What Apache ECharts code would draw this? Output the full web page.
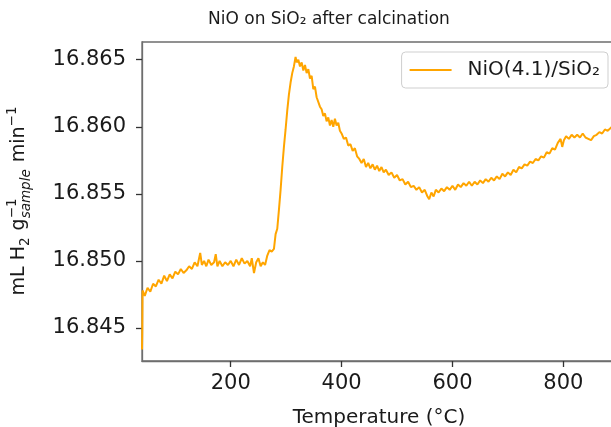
<!DOCTYPE html>
<html>
<head>
<meta charset="utf-8">
<script src="https://cdn.jsdelivr.net/npm/echarts@6/dist/echarts.min.js"></script>
<style>
  html, body { margin: 0; padding: 0; background: #fff; }
  #chart { width: 611px; height: 427px; }
</style>
</head>
<body>
<div id="chart"></div>
<script>
// Temperature-programmed reduction trace (H2 consumption vs. temperature)
const temperature = [
  40, 40.5, 41, 45, 50, 55, 60, 65, 70, 75, 80, 85, 90, 95, 100, 105, 110, 115, 120, 125,
  130, 135, 140, 145, 148, 152, 156, 160, 165, 170, 173, 176, 180, 185, 190, 195, 200, 205, 210, 215,
  220, 225, 230, 235, 238, 242, 246, 250, 254, 258, 262, 266, 270, 274, 278, 281, 284, 287, 290, 293,
  296, 299, 302, 305, 308, 311, 314, 317, 319, 322, 325, 328, 331, 334, 337, 340, 343, 346, 349, 352,
  355, 358, 361, 364, 367, 370, 373, 376, 379, 382, 385, 388, 391, 394, 397, 400, 404, 408, 412, 416,
  420, 424, 428, 432, 436, 440, 444, 448, 452, 456, 460, 464, 468, 472, 476, 480, 485, 490, 495, 500,
  505, 510, 515, 520, 525, 530, 535, 540, 545, 550, 555, 558, 562, 566, 570, 575, 580, 585, 590, 595,
  600, 605, 610, 615, 620, 625, 630, 635, 640, 645, 650, 655, 660, 665, 670, 675, 680, 685, 690, 695,
  700, 705, 710, 715, 720, 725, 730, 735, 740, 745, 750, 755, 760, 765, 770, 775, 780, 785, 790, 795,
  798, 801, 805, 810, 815, 820, 825, 830, 835, 840, 845, 850, 855, 860, 865, 870, 875, 880, 885, 890, 895
];
const h2Consumption = [
  16.8434, 16.8447, 16.8478, 16.8474, 16.8480, 16.8477, 16.8483, 16.8481, 16.8486, 16.8483, 16.8489, 16.8485, 16.8490, 16.8487, 16.8492, 16.8490, 16.8494, 16.8491, 16.8493, 16.8496,
  16.8494, 16.8499, 16.8496, 16.8506, 16.8497, 16.8500, 16.8496, 16.8501, 16.8497, 16.8499, 16.8505, 16.8496, 16.8500, 16.8496, 16.8499, 16.8497, 16.8500, 16.8496, 16.8501, 16.8497,
  16.8502, 16.8498, 16.8500, 16.8496, 16.8502, 16.8491, 16.8499, 16.8502, 16.8496, 16.8499, 16.8497, 16.8504, 16.8508, 16.8507, 16.8509, 16.8520, 16.8524, 16.8538, 16.8553, 16.8570,
  16.8585, 16.8598, 16.8612, 16.8624, 16.8633, 16.8640, 16.8645, 16.8652, 16.8648, 16.8650, 16.8645, 16.8648, 16.8642, 16.8646, 16.8640, 16.8643, 16.8636, 16.8638, 16.8628, 16.8630,
  16.8622, 16.8621, 16.8615, 16.8613, 16.8608, 16.8610, 16.8604, 16.8607, 16.8601, 16.8605, 16.8600, 16.8606, 16.8601, 16.8603, 16.8597, 16.8595, 16.8591, 16.8592, 16.8586, 16.8587,
  16.8582, 16.8584, 16.8578, 16.8576, 16.8573, 16.8576, 16.8570, 16.8573, 16.8569, 16.8572, 16.8568, 16.8571, 16.8567, 16.8570, 16.8566, 16.8568, 16.8564, 16.8566, 16.8562, 16.8564,
  16.8560, 16.8561, 16.8557, 16.8559, 16.8555, 16.8556, 16.8553, 16.8555, 16.8551, 16.8553, 16.8548, 16.8546, 16.8551, 16.8548, 16.8553, 16.8551, 16.8554, 16.8552, 16.8555, 16.8553,
  16.8556, 16.8553, 16.8557, 16.8555, 16.8558, 16.8556, 16.8559, 16.8556, 16.8559, 16.8557, 16.8560, 16.8558, 16.8561, 16.8559, 16.8562, 16.8560, 16.8563, 16.8561, 16.8565, 16.8563,
  16.8566, 16.8564, 16.8568, 16.8566, 16.8570, 16.8569, 16.8572, 16.8571, 16.8574, 16.8573, 16.8576, 16.8575, 16.8578, 16.8577, 16.8581, 16.8580, 16.8584, 16.8583, 16.8588, 16.8591,
  16.8585, 16.8590, 16.8593, 16.8591, 16.8594, 16.8592, 16.8594, 16.8592, 16.8595, 16.8592, 16.8591, 16.8590, 16.8593, 16.8594, 16.8596, 16.8595, 16.8598, 16.8597, 16.8599, 16.8601, 16.8600
];
const xTicks = [200, 400, 600, 800];
const yTicks = [16.845, 16.850, 16.855, 16.860, 16.865];
const seriesName = 'NiO(4.1)/SiO₂';
const chartTitle = 'NiO on SiO₂ after calcination';
const xAxisTitle = 'Temperature (°C)';

const FONT = "'DejaVu Sans', sans-serif";
const TEXT = '#1a1a1a';
const LINE = '#ffa500';

// Rotated y-axis title assembled from pieces so the stacked
// superscript / subscript after "g" sit on top of each other.
function buildYTitle(baselineX, centerY) {
  const ctx = document.createElement('canvas').getContext('2d');
  const measure = (t, size, italic) => {
    ctx.font = (italic ? 'italic ' : '') + size + 'px "DejaVu Sans"';
    return ctx.measureText(t).width;
  };
  const MAIN = 19, SCRIPT = 13.5, GAP = 1;
  const pieces = [];
  let x = 0;
  const put = (text, size, shift, italic, advance) => {
    pieces.push({
      type: 'text', x: x, y: shift - 0.35 * size,
      style: {
        text: text, fill: TEXT,
        font: (italic ? 'italic ' : '') + size + 'px ' + FONT,
        textAlign: 'left', verticalAlign: 'middle', textVerticalAlign: 'middle'
      }
    });
    if (advance) x += measure(text, size, italic);
  };
  put('mL H', MAIN, 0, false, true);
  put('2', SCRIPT, 4, false, true);
  x += GAP;
  put(' g', MAIN, 0, false, true);
  const supW = measure('−1', SCRIPT, false);
  const subW = measure('sample', SCRIPT, true);
  put('−1', SCRIPT, -9, false, false);
  put('sample', SCRIPT, 5, true, false);
  x += Math.max(supW, subW) + GAP;
  put(' min', MAIN, 0, false, true);
  put('−1', SCRIPT, -9, false, true);
  return {
    type: 'group',
    x: baselineX, y: centerY + x / 2,
    rotation: Math.PI / 2,
    children: pieces
  };
}

const chart = echarts.init(document.getElementById('chart'), null, { renderer: 'canvas' });

chart.setOption({
  animation: false,
  backgroundColor: '#fff',
  title: {
    text: chartTitle,
    left: 203, top: 6,
    textStyle: { fontFamily: FONT, fontSize: 17, fontWeight: 'normal', color: TEXT }
  },
  legend: {
    data: [{ name: seriesName, icon: 'rect' }],
    right: 3, top: 52,
    padding: [8, 8, 8, 8],
    itemWidth: 42, itemHeight: 2,
    itemStyle: { color: LINE },
    borderColor: '#cfcfcf', borderWidth: 1, borderRadius: 4,
    backgroundColor: 'rgba(255,255,255,0.8)',
    textStyle: { fontFamily: FONT, fontSize: 20, color: TEXT, padding: [0, 0, 0, 11], lineHeight: 20 }
  },
  grid: {
    left: 142, top: 42, right: -5, bottom: 66,
    containLabel: false, outerBoundsMode: 'none',
    show: true, borderColor: '#6e6e6e', borderWidth: 1.3, backgroundColor: 'transparent'
  },
  xAxis: {
    type: 'value',
    min: 40, max: 895,
    name: xAxisTitle, nameLocation: 'middle', nameGap: 47,
    nameTextStyle: { fontFamily: FONT, fontSize: 20, color: TEXT },
    axisLine: { show: true, lineStyle: { color: '#6e6e6e', width: 1.3 } },
    axisTick: { show: true, inside: false, length: 6, customValues: xTicks, lineStyle: { color: '#333', width: 1.3 } },
    axisLabel: { customValues: xTicks, margin: 12, fontFamily: FONT, fontSize: 21, color: TEXT },
    splitLine: { show: false }
  },
  yAxis: {
    type: 'value',
    min: 16.84254, max: 16.86632,
    axisLine: { show: true, lineStyle: { color: '#6e6e6e', width: 1.3 } },
    axisTick: { show: true, inside: false, length: 6, customValues: yTicks, lineStyle: { color: '#333', width: 1.3 } },
    axisLabel: {
      customValues: yTicks, margin: 16, fontFamily: FONT, fontSize: 21, color: TEXT,
      formatter: v => v.toFixed(3)
    },
    splitLine: { show: false }
  },
  graphic: [buildYTitle(26, 201)],
  series: [{
    name: seriesName,
    type: 'line',
    data: temperature.map((t, i) => [t, h2Consumption[i]]),
    showSymbol: false, symbol: 'none',
    clip: true,
    color: LINE,
    lineStyle: { color: LINE, width: 2 }
  }]
});
</script>
</body>
</html>
